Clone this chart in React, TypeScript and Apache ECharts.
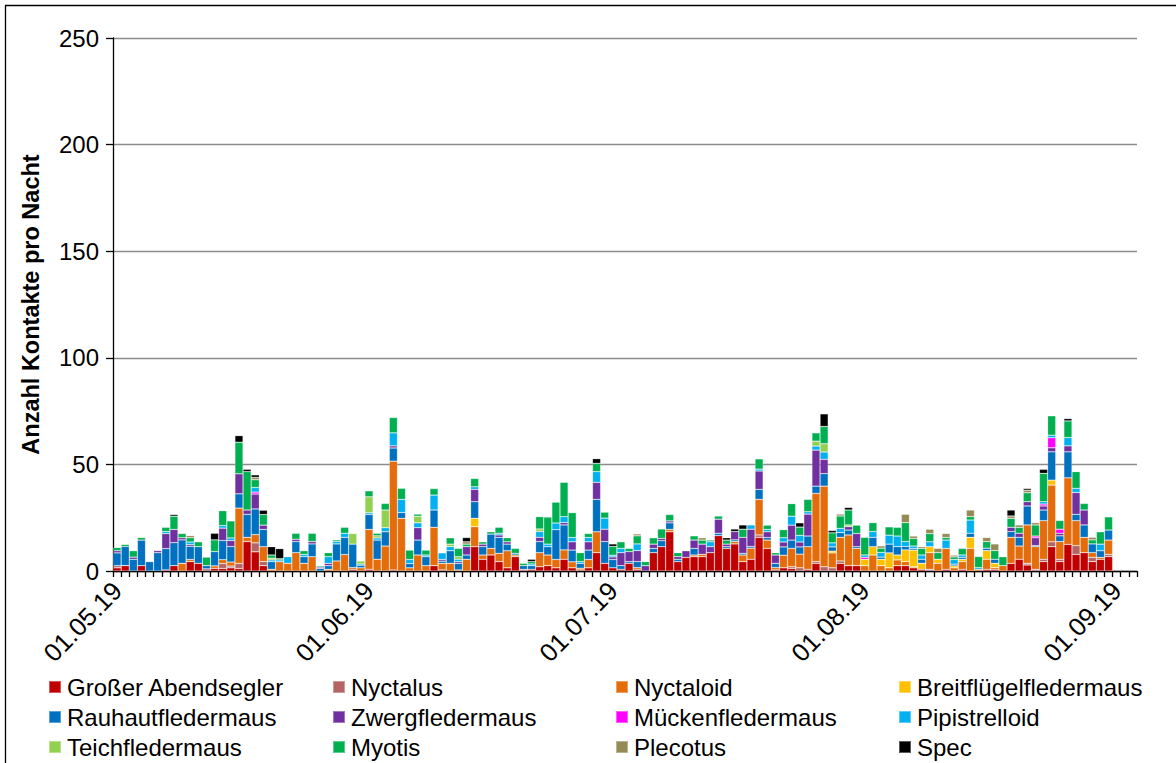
import React, { useEffect, useRef } from "react";
import * as echarts from "echarts";

const FONT = "'Liberation Sans', Arial, Helvetica, sans-serif";

// categories: one per night, 01.05.19 .. 03.09.19
const START_DAY = new Date(2019, 4, 1);
const DAY_COUNT = 126;
const days: string[] = [];
for (let i = 0; i < DAY_COUNT; i++) {
  const d = new Date(START_DAY.getFullYear(), START_DAY.getMonth(), START_DAY.getDate() + i);
  const dd = String(d.getDate()).padStart(2, "0");
  const mm = String(d.getMonth() + 1).padStart(2, "0");
  const yy = String(d.getFullYear()).slice(2);
  days.push(`${dd}.${mm}.${yy}`);
}

const yTicks = [0, 50, 100, 150, 200, 250];

const seriesNames = [
  "Großer Abendsegler",
  "Nyctalus",
  "Nyctaloid",
  "Breitflügelfledermaus",
  "Rauhautfledermaus",
  "Zwergfledermaus",
  "Mückenfledermaus",
  "Pipistrelloid",
  "Teichfledermaus",
  "Myotis",
  "Plecotus",
  "Spec",
];

const seriesColors = [
  "#C00000",
  "#B46464",
  "#E46C0A",
  "#FFC000",
  "#0070C0",
  "#7030A0",
  "#FF00FF",
  "#00B0F0",
  "#92D050",
  "#00B050",
  "#948A54",
  "#000000",
];

const grosserAbendsegler = [
  1.5, 2.5, 0, 2.5, 0, 0, 0.5, 2.5, 0, 4.4,
  3.6, 0, 1.2, 1.2, 1.5, 1.2, 13.8, 9, 2.5, 0,
  0, 0, 0, 0, 0, 0, 0, 0, 0, 0.8,
  0, 0.8, 0, 0, 0.5, 0, 0, 0, 0, 2.5,
  0.5, 0, 0, 0, 11.4, 5.5, 7.5, 4.4, 1.5, 6.7,
  0, 0.8, 2, 2.5, 1.5, 5.5, 1.5, 0.5, 1.5, 8.6,
  3.6, 1.5, 0.8, 3.6, 0.8, 0, 8.6, 11.4, 18.4, 4.4,
  6.4, 6.7, 6.7, 8.6, 16.6, 10.6, 12.7, 4.4, 5.5, 15.8,
  10.6, 0.5, 1.5, 1.2, 0, 0.8, 3.6, 0, 0, 3.6,
  2.5, 2.5, 0, 0, 0, 0, 2.5, 2.5, 1.5, 0.8,
  0, 0, 0.8, 0, 0.8, 0, 0, 0.8, 0.8, 0,
  3.6, 5.5, 2.8, 0, 4.4, 11.4, 4.4, 12.5, 7.8, 8.6,
  4.4, 5.5, 6.7,
];

const nyctalus = [
  1, 0, 0, 0, 0, 0, 0, 0, 0, 0,
  0, 1, 0, 2.3, 0.8, 2.3, 0, 4.2, 1.9, 0,
  0, 0, 0, 0, 0, 0, 0, 0, 0, 0,
  0, 0, 0, 0, 0, 0, 0, 0, 0, 0,
  0, 0, 0, 0, 0, 0, 0, 0, 0, 0,
  0.8, 0, 0, 0, 0, 0, 0, 0, 0, 0,
  0, 0, 0, 0, 0, 0, 0, 0, 0, 0,
  0, 0, 0, 0, 0, 0, 0, 0, 0, 1.1,
  0, 0, 0, 0.8, 1.5, 0, 0.8, 2, 1.5, 1.1,
  0, 0, 0, 0, 0, 0, 0, 0, 0, 0,
  0.8, 0, 0, 0, 0, 0, 0, 0, 0, 0,
  0, 0, 0.8, 0.8, 1.1, 2.3, 1.1, 0, 4.1, 0,
  2, 0, 1.1,
];

const nyctaloid = [
  0, 0, 0, 0, 0, 0, 0, 0, 3.6, 1,
  0, 0, 1.2, 1.8, 1.9, 26, 2, 3.9, 7, 0.8,
  4.4, 3.6, 8.6, 3.6, 6.7, 0, 0.8, 4.7, 7.7, 0.8,
  1.5, 18.7, 5.5, 11.7, 51, 24.7, 1.5, 7.5, 2.5, 18,
  3.1, 3.6, 0.5, 5.5, 9.4, 2, 3.1, 3.9, 8, 0.8,
  0, 0, 6.6, 5, 3.9, 4.4, 2.8, 0.8, 3.9, 9.8,
  0, 0, 0, 0, 0.8, 0, 0, 0, 1.1, 0,
  0, 0.8, 1.1, 0, 0, 0, 1.1, 3.1, 5.2, 16.7,
  3.9, 1.1, 5.9, 8.6, 6.4, 10.6, 32, 37.8, 7, 11.1,
  14.4, 8.1, 2.5, 7.5, 2.5, 1.5, 2.7, 1.9, 0.5, 0,
  7.8, 3.6, 9.8, 1.5, 3.6, 10.6, 0.8, 4.7, 0.8, 2.5,
  12.2, 6.2, 18, 10.6, 18.1, 26.6, 8.3, 31.2, 11.7, 7.2,
  2.2, 0.9, 6.7,
];

const breitfluegel = [
  0, 0, 0, 0, 0, 0, 0, 0, 0, 0,
  0, 0, 0, 0, 0, 0, 0, 0, 0, 0,
  0, 0, 0, 0, 0, 0, 0, 0, 0, 0,
  0, 0, 0, 0, 0, 0, 0, 0, 0, 0,
  0, 0, 0, 0, 3.9, 0, 0, 0, 0, 0,
  0, 0, 0, 0, 0, 0, 0, 0, 0, 0,
  0, 0, 0, 0, 0, 0, 0, 0, 0, 0,
  0, 0, 0, 0, 0, 0, 0, 0, 0, 0,
  0, 0, 0, 0, 0, 0, 0, 0, 0.8, 0,
  0, 0, 3, 3.9, 3, 7, 2.3, 5.5, 7.8, 2.8,
  2.8, 1.9, 0, 0.9, 1.1, 5.2, 0, 4.1, 2, 0,
  0, 0, 0, 0, 0, 2.3, 0, 0, 0, 0,
  0, 0, 0,
];

const rauhaut = [
  6, 9, 5.5, 12, 4.4, 8.6, 10, 10.8, 11, 6.2,
  7.8, 1.5, 6.7, 9, 7.3, 6.7, 10.8, 12, 8.1, 3.6,
  0, 0, 5.2, 3.1, 6, 1.2, 1.7, 8, 8.1, 11,
  1.2, 7, 9, 6.7, 6.2, 2.7, 2, 7, 4.2, 8.1,
  1, 5.9, 3.1, 2, 7.8, 3.9, 6.7, 7.5, 3.1, 0.8,
  1.7, 1.7, 5.2, 3.9, 14, 11.7, 5.5, 2.3, 4.4, 15.2,
  10.2, 3.9, 1.7, 0.8, 2.8, 0, 2, 2.8, 3.1, 1.1,
  0, 3.1, 0, 0, 1.1, 0.8, 0.8, 0.8, 0.8, 4.7,
  1.2, 2, 3.9, 3.9, 3.4, 5, 3.4, 5.9, 2, 2.2,
  2.3, 0.8, 0, 4.4, 1, 4.1, 3.9, 1.6, 0.8, 1.9,
  0, 0, 0, 0.8, 0.9, 1.9, 0, 1.1, 1.9, 0,
  2.7, 4.1, 8.9, 0.5, 5, 13.3, 2.7, 12.2, 3, 5.8,
  4.1, 3.1, 4.7,
];

const zwerg = [
  1, 0, 1, 0, 0, 1, 7, 6.2, 1, 0.8,
  0, 0, 0, 5.8, 2.8, 9.4, 2, 7, 2, 0,
  0, 0, 1.1, 0, 1.1, 0.6, 1.1, 0, 0, 0,
  0, 0, 0, 0, 1, 0, 0, 5.8, 0, 0,
  0.8, 0, 0.8, 3.9, 5.8, 1.2, 0, 1.1, 1.1, 0,
  0, 0, 2, 0, 0, 1.1, 3.9, 0, 3.9, 8,
  5.8, 1.2, 6.1, 4.7, 5.2, 2.5, 2, 1.1, 0.9, 1.2,
  3.1, 3.9, 4.8, 2.8, 6.6, 1.2, 3.9, 7.5, 8.1, 8.6,
  2.7, 3.9, 2.3, 7, 2.3, 10.3, 16.9, 6.7, 0, 0,
  1.6, 6.2, 0, 0, 0, 0, 0, 0, 0, 0,
  0, 0, 0, 0, 0, 0, 0, 0, 0, 0,
  2, 1.9, 2, 3.7, 1.9, 1.9, 1.2, 2.8, 10.2, 7,
  0, 0, 0,
];

const muecken = [
  0, 0, 0, 0, 0, 0, 0, 0, 0, 0,
  0, 0, 0, 0, 0, 0, 0, 0.9, 0, 0,
  0, 0, 0, 0, 0, 0, 0, 0, 0, 0,
  0, 0, 0, 0, 0, 0, 0, 0, 0, 0,
  0, 0, 0, 0, 0, 0, 0, 0, 0, 0,
  0, 0, 0, 0, 0, 0, 0, 0, 0, 0,
  0, 0, 0, 0, 0, 0, 0, 0, 0, 0,
  0, 0, 0, 0, 0, 0, 0, 0, 0, 0,
  0, 0, 0, 0, 0, 0, 0, 0, 0, 0,
  0, 0, 0.9, 0, 0, 0, 0, 0, 0, 0,
  0, 0, 0, 0, 0, 0, 0, 0, 0, 0,
  0, 0, 0, 0.8, 0.9, 4.7, 1.9, 0, 0, 0,
  0, 0, 0,
];

const pipistrelloid = [
  0, 0, 0, 0, 0, 0, 1, 0, 0, 1.2,
  0, 0, 0, 1.2, 1.2, 0, 0, 2.2, 0, 0.8,
  0.8, 3.1, 0, 1.1, 0, 0, 3.1, 1.1, 1.9, 0,
  0.6, 0.8, 1, 1.9, 6.1, 6.2, 1.9, 2.3, 0.8, 7,
  3.1, 1.9, 1.1, 0, 1.2, 0, 0, 0.8, 0, 0,
  0, 0.8, 2.7, 1.2, 3.1, 2.8, 2, 0.8, 2, 5,
  5.2, 0.8, 2, 0, 3.1, 0, 0, 0, 0, 0,
  0, 0, 0, 2.3, 0, 0, 0, 0, 2, 0.9,
  1.1, 0, 2, 4.2, 3.1, 1.1, 1.9, 3.4, 1.9, 2,
  0, 0, 1.1, 2.7, 2.2, 4.2, 5, 2.3, 1.1, 2,
  2.3, 0, 3.9, 2.2, 1.1, 6.2, 0.8, 0, 0, 0,
  0, 0, 0, 0, 1.1, 1.2, 0, 3.9, 2, 0,
  0, 3.1, 0,
];

const teich = [
  0, 0, 0, 0, 0, 0, 0, 0, 0, 0,
  0, 0, 0, 0, 0, 0, 0, 0, 0, 0.8,
  0, 0, 0, 0, 0, 0, 0, 0, 0, 5,
  1.4, 7.5, 1, 8.3, 0, 0, 0, 3.1, 0, 0,
  0, 1.2, 1.2, 0, 0, 0, 0, 0, 0, 0,
  0, 0, 1.2, 0, 0, 0, 0, 0, 0, 0,
  0, 0, 0, 0, 0, 0, 0, 0, 0, 0,
  0, 0, 0, 0, 0, 0, 0, 0, 0, 0,
  0, 0, 0, 0, 0, 0, 2.3, 3.9, 0, 0,
  0.8, 0, 0, 0, 0, 0, 0, 0, 0, 0,
  0, 0, 0, 0, 0, 0, 0, 0, 0, 0,
  0, 0, 0, 0, 0, 0, 0, 0, 0, 0,
  0, 0, 0,
];

const myotis = [
  1.5, 1, 3, 1.2, 0, 0, 2, 6.2, 2, 2,
  2.3, 4, 5.5, 7, 8, 14.8, 18, 3.6, 5, 1.5,
  0.6, 0, 2.8, 1.7, 3.9, 0.6, 1.9, 0.8, 2.8, 0,
  0, 2.8, 1.2, 3.1, 7.2, 5.2, 4.4, 1, 2.3, 3.1,
  0, 3, 3.9, 1.2, 3.9, 1.1, 1.1, 2.8, 1.9, 2.3,
  1.1, 1.1, 5.8, 12.7, 9.8, 16.1, 11.7, 4.2, 1.9, 3.9,
  2.8, 4.1, 3.1, 1.5, 3.8, 1.9, 3, 4.4, 3, 1.9,
  0, 2, 1.9, 0.8, 1.5, 1.9, 0, 3.8, 0, 4.8,
  2, 1.1, 3.8, 5.9, 3.9, 5.8, 3.9, 8.1, 4.7, 5.8,
  7, 3.9, 8.3, 4.2, 2, 3.9, 4.1, 8.9, 3.6, 3.1,
  3.9, 3.1, 1.2, 1.2, 3.1, 1.6, 5.2, 3.1, 4.1, 4.2,
  4.2, 2.8, 4.2, 5.2, 13.3, 9.1, 4.1, 7.8, 7.8, 3.1,
  1.9, 5.8, 6.2,
];

const plecotus = [
  0, 0, 0, 0, 0, 0, 0, 0, 0, 1,
  0, 0, 0, 0, 0, 0, 0, 1.1, 0, 0,
  0, 0, 0, 0, 0, 0, 0, 0, 0, 0,
  0, 0, 0, 0, 0, 0, 0, 0, 0, 0,
  0, 0, 0, 1.1, 0, 0, 0, 0, 0, 0,
  0, 0, 0, 0, 0, 0, 0, 0, 0, 0,
  0, 0, 0, 0, 0.9, 0, 0, 0, 0, 0,
  0, 0, 1.1, 0, 0, 0, 0, 0, 0, 0,
  0, 0, 0, 0, 0, 0, 0, 0, 0, 0.9,
  0, 0, 0, 0, 1.1, 0, 0, 3.9, 1.1, 0.8,
  2, 2, 1.9, 0.8, 0, 3.1, 0, 1.9, 3.1, 0,
  1.1, 1.1, 1.2, 1.1, 0, 0, 0, 0, 0, 0,
  1.2, 0, 0,
];

const spec = [
  0, 0, 0, 0, 0, 0, 0, 0.8, 0, 0,
  0, 0, 3.1, 0, 0, 3.1, 1.1, 1.2, 2, 3.9,
  4.7, 0, 0, 0, 0, 0, 0, 0, 0, 0,
  0, 0, 0, 0, 0, 0, 0, 0, 0, 0,
  0, 0, 0, 2, 0, 0, 0, 0, 0, 0,
  0, 1.1, 0, 0, 0, 0, 0, 0, 0, 2.2,
  0, 1.2, 0, 0, 0, 0, 0, 0, 0, 0,
  0, 0, 0, 0, 0, 1.1, 1.2, 2, 0, 0,
  0, 0, 0, 0, 2, 0, 0, 5.9, 1.1, 0,
  1.2, 0, 0, 0, 0, 0, 0, 0, 0, 0,
  0, 0, 0, 0, 0, 0, 0, 0, 0, 0,
  2.8, 0, 0.8, 0, 1.9, 0, 0, 1.1, 0, 0,
  0, 0, 0,
];

const seriesValues = [
  grosserAbendsegler,
  nyctalus,
  nyctaloid,
  breitfluegel,
  rauhaut,
  zwerg,
  muecken,
  pipistrelloid,
  teich,
  myotis,
  plecotus,
  spec,
];

const legendColumns = [
  ["Großer Abendsegler", "Rauhautfledermaus", "Teichfledermaus"],
  ["Nyctalus", "Zwergfledermaus", "Myotis"],
  ["Nyctaloid", "Mückenfledermaus", "Plecotus"],
  ["Breitflügelfledermaus", "Pipistrelloid", "Spec"],
];
const legendLefts = [48, 332, 615, 898];

export default function App() {
  const ref = useRef<HTMLDivElement>(null);

  useEffect(() => {
    if (!ref.current) return;
    const chart = echarts.init(ref.current, undefined, { renderer: "svg" });

    const series = seriesNames.map((name, si) => ({
      name,
      type: "bar",
      stack: "total",
      barCategoryGap: "0%",
      barGap: "0%",
      color: seriesColors[si],
      itemStyle: {
        color: seriesColors[si],
        borderColor: "rgba(255,255,255,0.35)",
        borderWidth: 0.6,
      },
      emphasis: { disabled: true },
      data: days.map((_, di) => {
        const v = seriesValues[si][di];
        return v ? v : null;
      }),
    }));

    chart.setOption({
      animation: false,
      backgroundColor: "#ffffff",
      textStyle: { fontFamily: FONT },
      graphic: [
        {
          type: "rect",
          shape: { x: 5.5, y: 5.5, width: 1300, height: 900 },
          style: { fill: "none", stroke: "#000", lineWidth: 1.3 },
          silent: true,
          z: 100,
        },
      ],
      grid: { left: 113, right: 39, top: 38, bottom: 192, containLabel: false },
      legend: legendColumns.map((col, ci) => ({
        data: col,
        orient: "vertical",
        left: legendLefts[ci],
        top: 675,
        padding: 0,
        itemWidth: 12,
        itemHeight: 12,
        itemGap: 6,
        icon: "rect",
        selectedMode: false,
        textStyle: {
          fontSize: 24,
          lineHeight: 24,
          color: "#000",
          fontFamily: FONT,
          padding: [0, 0, 0, 1],
        },
      })),
      xAxis: {
        type: "category",
        data: days,
        boundaryGap: true,
        axisLine: { show: true, lineStyle: { color: "#000", width: 1.3 } },
        axisTick: {
          show: true,
          interval: 0,
          length: 6,
          lineStyle: { color: "#000", width: 1.3 },
        },
        axisLabel: {
          interval: (_i: number, v: string) => v.startsWith("01."),
          rotate: 46,
          fontSize: 25.5,
          color: "#000",
          fontFamily: FONT,
          margin: 15,
        },
        splitLine: { show: false },
      },
      yAxis: {
        type: "value",
        min: yTicks[0],
        max: yTicks[yTicks.length - 1],
        interval: 50,
        name: "Anzahl Kontakte pro Nacht",
        nameLocation: "middle",
        nameGap: 70,
        nameTextStyle: {
          fontSize: 23.5,
          fontWeight: "bold",
          color: "#000",
          fontFamily: FONT,
        },
        axisLine: { show: true, lineStyle: { color: "#000", width: 1.3 } },
        axisTick: { show: true, length: 7, lineStyle: { color: "#000", width: 1.3 } },
        axisLabel: { fontSize: 24, color: "#000", fontFamily: FONT, margin: 14 },
        splitLine: { show: true, lineStyle: { color: "#8c8c8c", width: 1.3 } },
      },
      series,
    });

    return () => chart.dispose();
  }, []);

  return (
    <div
      ref={ref}
      style={{ position: "fixed", left: 0, top: 0, width: 1176, height: 763 }}
    />
  );
}
